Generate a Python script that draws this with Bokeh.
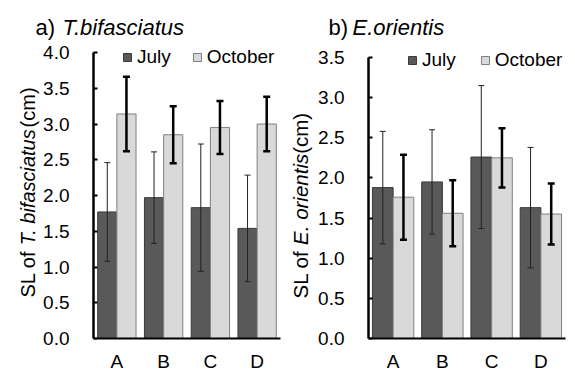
from math import pi
from bokeh.plotting import figure
from bokeh.layouts import row
from bokeh.models import (ColumnDataSource, Range1d, Whisker, TeeHead,
                          Legend, LegendItem, Label, FixedTicker)
from bokeh.embed import file_html
from bokeh.resources import INLINE

# ---------------- data ----------------
sites = ["A", "B", "C", "D"]
series = ["July", "October"]

# a) T. bifasciatus
tb_july_mean = [1.77, 1.97, 1.83, 1.54]
tb_july_sd = [0.69, 0.64, 0.89, 0.745]
tb_oct_mean = [3.14, 2.85, 2.95, 3.00]
tb_oct_sd = [0.52, 0.40, 0.37, 0.38]
tb_yticks = [0.0, 0.5, 1.0, 1.5, 2.0, 2.5, 3.0, 3.5, 4.0]

# b) E. orientis
eo_july_mean = [1.88, 1.95, 2.26, 1.63]
eo_july_sd = [0.70, 0.65, 0.89, 0.75]
eo_oct_mean = [1.76, 1.56, 2.25, 1.55]
eo_oct_sd = [0.53, 0.41, 0.37, 0.38]
eo_yticks = [0.0, 0.5, 1.0, 1.5, 2.0, 2.5, 3.0, 3.5]

JULY_FILL = "#595959"
JULY_LINE = "#3a3a3a"
OCT_FILL = "#d9d9d9"
OCT_LINE = "#7f7f7f"
FONT = "Liberation Sans"

# Arial / Liberation Sans advance widths (per 1000 em)
W = {"S": 667, "L": 556, " ": 278, "o": 556, "f": 278, "T": 611, ".": 278, "b": 556,
     "i": 222, "a": 556, "s": 500, "c": 500, "t": 278, "u": 556, "(": 333, "m": 833,
     ")": 333, "E": 667, "r": 333, "e": 556, "n": 556}


def tw(s, fs):
    return sum(W.get(ch, 556) for ch in s) / 1000.0 * fs


def make_panel(width, axis_x, right_x, top_px, ymax_tick, yticks,
               jm, jsd, om, osd, barw, title_parts, ylab, legend_xy, legend_spacing):
    # the frame covers the whole figure; both axes are pinned at 0
    height = 371
    bottom_px = 338
    n = len(sites)
    ppx = (right_x - axis_x) / n                 # pixels per category
    ppy = (bottom_px - top_px) / ymax_tick       # pixels per y unit
    x0 = -axis_x / ppx
    x1 = n + (width - right_x) / ppx
    y0 = -(height - bottom_px) / ppy
    y1 = bottom_px / ppy

    def dx(px):
        return (px - axis_x) / ppx

    def dy(py):
        return (bottom_px - py) / ppy

    p = figure(width=width, height=height,
               x_range=Range1d(x0, x1), y_range=Range1d(y0, y1),
               output_backend="svg", toolbar_location=None,
               min_border_left=0, min_border_right=0,
               min_border_top=0, min_border_bottom=0, min_border=0)
    p.outline_line_color = None
    p.xgrid.visible = False
    p.ygrid.visible = False
    p.background_fill_color = "white"
    p.border_fill_color = "white"

    xpos = [i + 0.5 for i in range(n)]
    off = barw / 2.0
    src = ColumnDataSource(dict(
        site=sites,
        jx=[x - off for x in xpos], ox=[x + off for x in xpos],
        jm=jm, jhi=[m + s for m, s in zip(jm, jsd)], jlo=[m - s for m, s in zip(jm, jsd)],
        om=om, ohi=[m + s for m, s in zip(om, osd)], olo=[m - s for m, s in zip(om, osd)],
    ))
    rj = p.vbar(x="jx", top="jm", bottom=0, width=barw, source=src,
                fill_color=JULY_FILL, line_color=JULY_LINE, line_width=1)
    ro = p.vbar(x="ox", top="om", bottom=0, width=barw, source=src,
                fill_color=OCT_FILL, line_color=OCT_LINE, line_width=1)

    wj = Whisker(base="jx", upper="jhi", lower="jlo",
                 source=src, line_color="#222222", line_width=1, level="annotation",
                 upper_head=TeeHead(size=6, line_color="#222222", line_width=1),
                 lower_head=TeeHead(size=6, line_color="#222222", line_width=1))
    wo = Whisker(base="ox", upper="ohi", lower="olo",
                 source=src, line_color="black", line_width=2.5, level="annotation",
                 upper_head=TeeHead(size=7, line_color="black", line_width=2.5),
                 lower_head=TeeHead(size=7, line_color="black", line_width=2.5))
    p.add_layout(wj)
    p.add_layout(wo)

    # y axis pinned at x = 0, drawn only from 0 to top tick
    p.yaxis.fixed_location = 0
    p.yaxis.bounds = (0, ymax_tick)
    p.yaxis.ticker = FixedTicker(ticks=yticks)
    p.yaxis.major_label_overrides = {t: f"{t:.1f}" for t in yticks}
    p.yaxis.axis_line_width = 2.5
    p.yaxis.axis_line_color = "black"
    p.yaxis.major_tick_in = 4
    p.yaxis.major_tick_out = 0
    p.yaxis.major_tick_line_width = 2
    p.yaxis.major_tick_line_color = "black"
    p.yaxis.minor_tick_line_color = None
    p.yaxis.major_label_standoff = 24
    p.yaxis.major_label_text_font = FONT
    p.yaxis.major_label_text_font_size = "19px"
    p.yaxis.major_label_text_color = "black"

    # x axis pinned at y = 0, with category names
    p.xaxis.fixed_location = 0
    p.xaxis.bounds = (0, n)
    p.xaxis.ticker = FixedTicker(ticks=xpos)
    p.xaxis.major_label_overrides = {x: s for x, s in zip(xpos, sites)}
    p.xaxis.axis_line_width = 2
    p.xaxis.axis_line_color = "black"
    p.xaxis.major_tick_in = 0
    p.xaxis.major_tick_out = 0
    p.xaxis.major_tick_line_color = None
    p.xaxis.minor_tick_line_color = None
    p.xaxis.major_label_standoff = 12
    p.xaxis.major_label_text_font = FONT
    p.xaxis.major_label_text_font_size = "19px"
    p.xaxis.major_label_text_color = "black"

    # legend (inside the frame, near its top)
    lx, ly = legend_xy
    leg = Legend(items=[LegendItem(label=series[0], renderers=[rj]),
                        LegendItem(label=series[1], renderers=[ro])],
                 orientation="horizontal", location=(lx, ly + (height - bottom_px)),
                 glyph_width=10, glyph_height=10, label_standoff=5,
                 spacing=legend_spacing, padding=0, margin=0,
                 border_line_color=None, background_fill_alpha=0,
                 label_text_font=FONT, label_text_font_size="19px",
                 label_text_color="black")
    p.add_layout(leg)

    # panel title pieces
    for text, style, xpx in title_parts:
        p.add_layout(Label(x=dx(xpx), y=dy(27), text=text, text_font=FONT,
                           text_font_style=style, text_font_size="22px",
                           text_color="black", text_baseline="alphabetic",
                           text_align="left"))

    # rotated y-axis label pieces (mixed upright / italic)
    bx, y0px, fs, parts = ylab
    pos = dy(y0px)
    for text, style in parts:
        p.add_layout(Label(x=dx(bx), y=pos, text=text, angle=pi / 2,
                           text_font=FONT, text_font_style=style,
                           text_font_size=f"{fs}px", text_color="black",
                           text_baseline="alphabetic", text_align="left"))
        pos += tw(text, fs) / ppy
    return p


p1 = make_panel(287, 93, 280, 52, 4.0, tb_yticks, tb_july_mean, tb_july_sd,
                tb_oct_mean, tb_oct_sd, 0.41,
                [("a)", "normal", 35), ("T.bifasciatus", "italic", 62)],
                (27.5, 297, 20, [("SL of ", "normal"), ("T. bifasciatus", "italic"), ("(cm)", "normal")]),
                (122, 270), 21)
p2 = make_panel(288, 81, 278, 57, 3.5, eo_yticks, eo_july_mean, eo_july_sd,
                eo_oct_mean, eo_oct_sd, 0.42,
                [("b)", "normal", 328 - 287), ("E.orientis", "italic", 352 - 287)],
                (300 - 287, 298, 20.5, [("SL of ", "normal"), ("E. orientis", "italic"), ("(cm)", "normal")]),
                (120, 267), 24)

layout = row(p1, p2, spacing=0)
open("out.html", "w").write(file_html(layout, INLINE))
